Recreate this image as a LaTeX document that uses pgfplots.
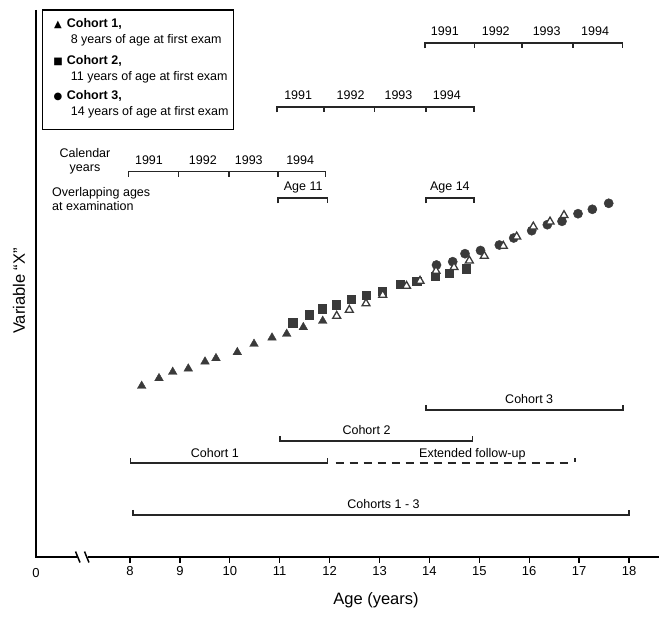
\documentclass[border=0pt]{standalone}
\usepackage{fontspec}
\setmainfont{Liberation Sans}
\newfontfamily\dejavu{DejaVu Sans}
\usepackage{pgfplots}
\pgfplotsset{compat=1.18}
\definecolor{mk}{HTML}{3A3A3A}
\tikzset{
  br/.style={black!85, line width=1.6bp},
  lab/.style={font=\fontsize{12.5bp}{14bp}\selectfont, inner sep=0pt},
}
\begin{document}
\begin{tikzpicture}
\useasboundingbox (0,0) rectangle (669bp,618bp);
\begin{axis}[
  at={(36bp,61.3bp)}, anchor=south west,
  scale only axis, width=623bp, height=546.7bp,
  xmin=6.116, xmax=18.601, ymin=0, ymax=546.7,
  axis line style={draw=none},
  ytick=\empty,
  xtick={8,...,18},
  xtick pos=bottom,
  tick align=outside, major tick length=6bp,
  tick style={black, line width=1.3bp},
  xticklabel style={font=\fontsize{13bp}{14bp}\selectfont},
  /pgf/number format/assume math mode=true,
  clip=false,
]
% axes
\draw[black, line width=1.9bp] (axis cs:6.116,546.7) -- (axis cs:6.116,0) -- (axis cs:6.938,0);
\draw[black, line width=1.9bp] (axis cs:7.158,0) -- (axis cs:18.601,0);
\draw[black, line width=1.5bp] (axis cs:6.908,5.2) -- (axis cs:6.998,-5.8);
\draw[black, line width=1.5bp] (axis cs:7.088,5.2) -- (axis cs:7.178,-5.8);
\node[font=\fontsize{13bp}{14bp}\selectfont] at (axis cs:6.116,-16) {0};
\node[font=\fontsize{16.5bp}{18bp}\selectfont] at (axis cs:12.93,-43.3) {Age (years)};
\node[font=\fontsize{16.5bp}{18bp}\selectfont, rotate=90] at (axis cs:5.776,265.7) {Variable “X”};

% data
\addplot[only marks, mark=triangle*, mark size=5bp, mark options={fill=mk, draw=mk}] coordinates {
(8.234,170.7) (8.581,178.4) (8.856,184.7) (9.168,188.0) (9.503,195.0) (9.723,198.4)
(10.150,204.4) (10.485,212.7) (10.846,219.0) (11.140,222.7) (11.473,229.4) (11.862,235.7)
};
\addplot[only marks, mark=square*, mark size=4.1bp, mark options={fill=mk, draw=mk}] coordinates {
(11.261,234.0) (11.587,242.0) (11.858,248.0) (12.128,252.0) (12.425,257.2) (12.729,261.7)
(13.060,265.2) (13.421,272.2) (13.745,275.2) (14.112,280.2) (14.403,283.7) (14.733,288.0)
};
\addplot[only marks, mark=*, mark size=4.6bp, mark options={fill=mk, draw=mk}] coordinates {
(14.142,291.7) (14.467,295.0) (14.713,303.0) (15.024,306.2) (15.401,311.7) (15.689,318.7)
(16.050,326.0) (16.363,332.0) (16.657,335.4) (16.978,343.0) (17.265,347.4) (17.593,353.4)
};
\addplot[only marks, mark=triangle*, mark size=4.6bp, mark options={fill=white, draw=mk, line width=1.3bp}] coordinates {
(12.142,240.7) (12.395,246.7) (12.729,253.2) (13.064,261.7) (13.541,270.7) (13.812,275.7)
(14.132,285.7) (14.493,289.4) (14.800,296.0) (15.100,300.7) (15.481,310.7) (15.749,320.0)
(16.082,330.0) (16.417,335.0) (16.697,341.4)
};

% legend
\draw[black, line width=1.5bp, fill=white] (axis cs:6.250,427.4) rectangle (axis cs:10.070,546.7);
\node[font=\dejavu\fontsize{10bp}{10bp}\selectfont, inner sep=0pt] at (axis cs:6.557,531.7) {▲};
\node[font=\dejavu\fontsize{10bp}{10bp}\selectfont, inner sep=0pt] at (axis cs:6.557,495) {■};
\node[font=\dejavu\fontsize{10bp}{10bp}\selectfont, inner sep=0pt] at (axis cs:6.557,459.4) {●};
\node[lab, anchor=mid west, font=\bfseries\fontsize{12.5bp}{14bp}\selectfont] at (axis cs:6.731,531.7) {Cohort 1,};
\node[lab, anchor=mid west] at (axis cs:6.810,516) {8 years of age at first exam};
\node[lab, anchor=mid west, font=\bfseries\fontsize{12.5bp}{14bp}\selectfont] at (axis cs:6.731,495) {Cohort 2,};
\node[lab, anchor=mid west] at (axis cs:6.810,478.4) {11 years of age at first exam};
\node[lab, anchor=mid west, font=\bfseries\fontsize{12.5bp}{14bp}\selectfont] at (axis cs:6.731,459.4) {Cohort 3,};
\node[lab, anchor=mid west] at (axis cs:6.810,443.4) {14 years of age at first exam};

% calendar-year rows
\node[lab, align=center] at (axis cs:7.098,395) {Calendar\\years};
\node[lab, align=left, anchor=west] at (axis cs:6.437,357.7) {Overlapping ages\\at examination};
\draw[br] (axis cs:7.97,380)--(axis cs:7.97,385)--(axis cs:11.92,385)--(axis cs:11.92,380)
  (axis cs:8.97,385)--(axis cs:8.97,380) (axis cs:9.98,385)--(axis cs:9.98,380) (axis cs:10.96,385)--(axis cs:10.96,380);
\node[lab, anchor=base] at (axis cs:8.38,392.5) {1991};
\node[lab, anchor=base] at (axis cs:9.46,392.5) {1992};
\node[lab, anchor=base] at (axis cs:10.38,392.5) {1993};
\node[lab, anchor=base] at (axis cs:11.41,392.5) {1994};

\draw[br] (axis cs:10.95,444.4)--(axis cs:10.95,449.4)--(axis cs:14.89,449.4)--(axis cs:14.89,444.4)
  (axis cs:11.89,449.4)--(axis cs:11.89,444.4) (axis cs:12.90,449.4)--(axis cs:12.90,444.4) (axis cs:13.93,449.4)--(axis cs:13.93,444.4);
\node[lab, anchor=base] at (axis cs:11.37,456.9) {1991};
\node[lab, anchor=base] at (axis cs:12.42,456.9) {1992};
\node[lab, anchor=base] at (axis cs:13.38,456.9) {1993};
\node[lab, anchor=base] at (axis cs:14.35,456.9) {1994};

\draw[br] (axis cs:13.91,508.4)--(axis cs:13.91,513.4)--(axis cs:17.87,513.4)--(axis cs:17.87,508.4)
  (axis cs:14.90,513.4)--(axis cs:14.90,508.4) (axis cs:15.85,513.4)--(axis cs:15.85,508.4) (axis cs:16.88,513.4)--(axis cs:16.88,508.4);
\node[lab, anchor=base] at (axis cs:14.31,520.9) {1991};
\node[lab, anchor=base] at (axis cs:15.33,520.9) {1992};
\node[lab, anchor=base] at (axis cs:16.35,520.9) {1993};
\node[lab, anchor=base] at (axis cs:17.32,520.9) {1994};

\draw[br] (axis cs:10.97,353.4)--(axis cs:10.97,358.4)--(axis cs:11.96,358.4)--(axis cs:11.96,353.4);
\node[lab, anchor=base] at (axis cs:11.47,365.9) {Age 11};
\draw[br] (axis cs:13.93,353.4)--(axis cs:13.93,358.4)--(axis cs:14.89,358.4)--(axis cs:14.89,353.4);
\node[lab, anchor=base] at (axis cs:14.41,365.9) {Age 14};

% cohort brackets
\draw[br] (axis cs:13.93,151.7)--(axis cs:13.93,146.7)--(axis cs:17.88,146.7)--(axis cs:17.88,151.7);
\node[lab, anchor=base] at (axis cs:16.0,152.7) {Cohort 3};
\draw[br] (axis cs:11.0,120.7)--(axis cs:11.0,115.7)--(axis cs:14.86,115.7)--(axis cs:14.86,120.7);
\node[lab, anchor=base] at (axis cs:12.74,121.7) {Cohort 2};
\draw[br] (axis cs:8.01,98.4)--(axis cs:8.01,93.4)--(axis cs:11.96,93.4)--(axis cs:11.96,98.4);
\node[lab, anchor=base] at (axis cs:9.7,99.4) {Cohort 1};
\draw[br, dash pattern=on 8bp off 6bp] (axis cs:12.12,93.4)--(axis cs:16.88,93.4);
\draw[br] (axis cs:16.92,94.9)--(axis cs:16.92,98.9);
\node[lab, anchor=base] at (axis cs:14.86,99.4) {Extended follow-up};
\draw[br] (axis cs:8.06,46.7)--(axis cs:8.06,41.7)--(axis cs:18.0,41.7)--(axis cs:18.0,46.7);
\node[lab, anchor=base] at (axis cs:13.08,47.7) {Cohorts 1 - 3};
\end{axis}
\end{tikzpicture}
\end{document}
